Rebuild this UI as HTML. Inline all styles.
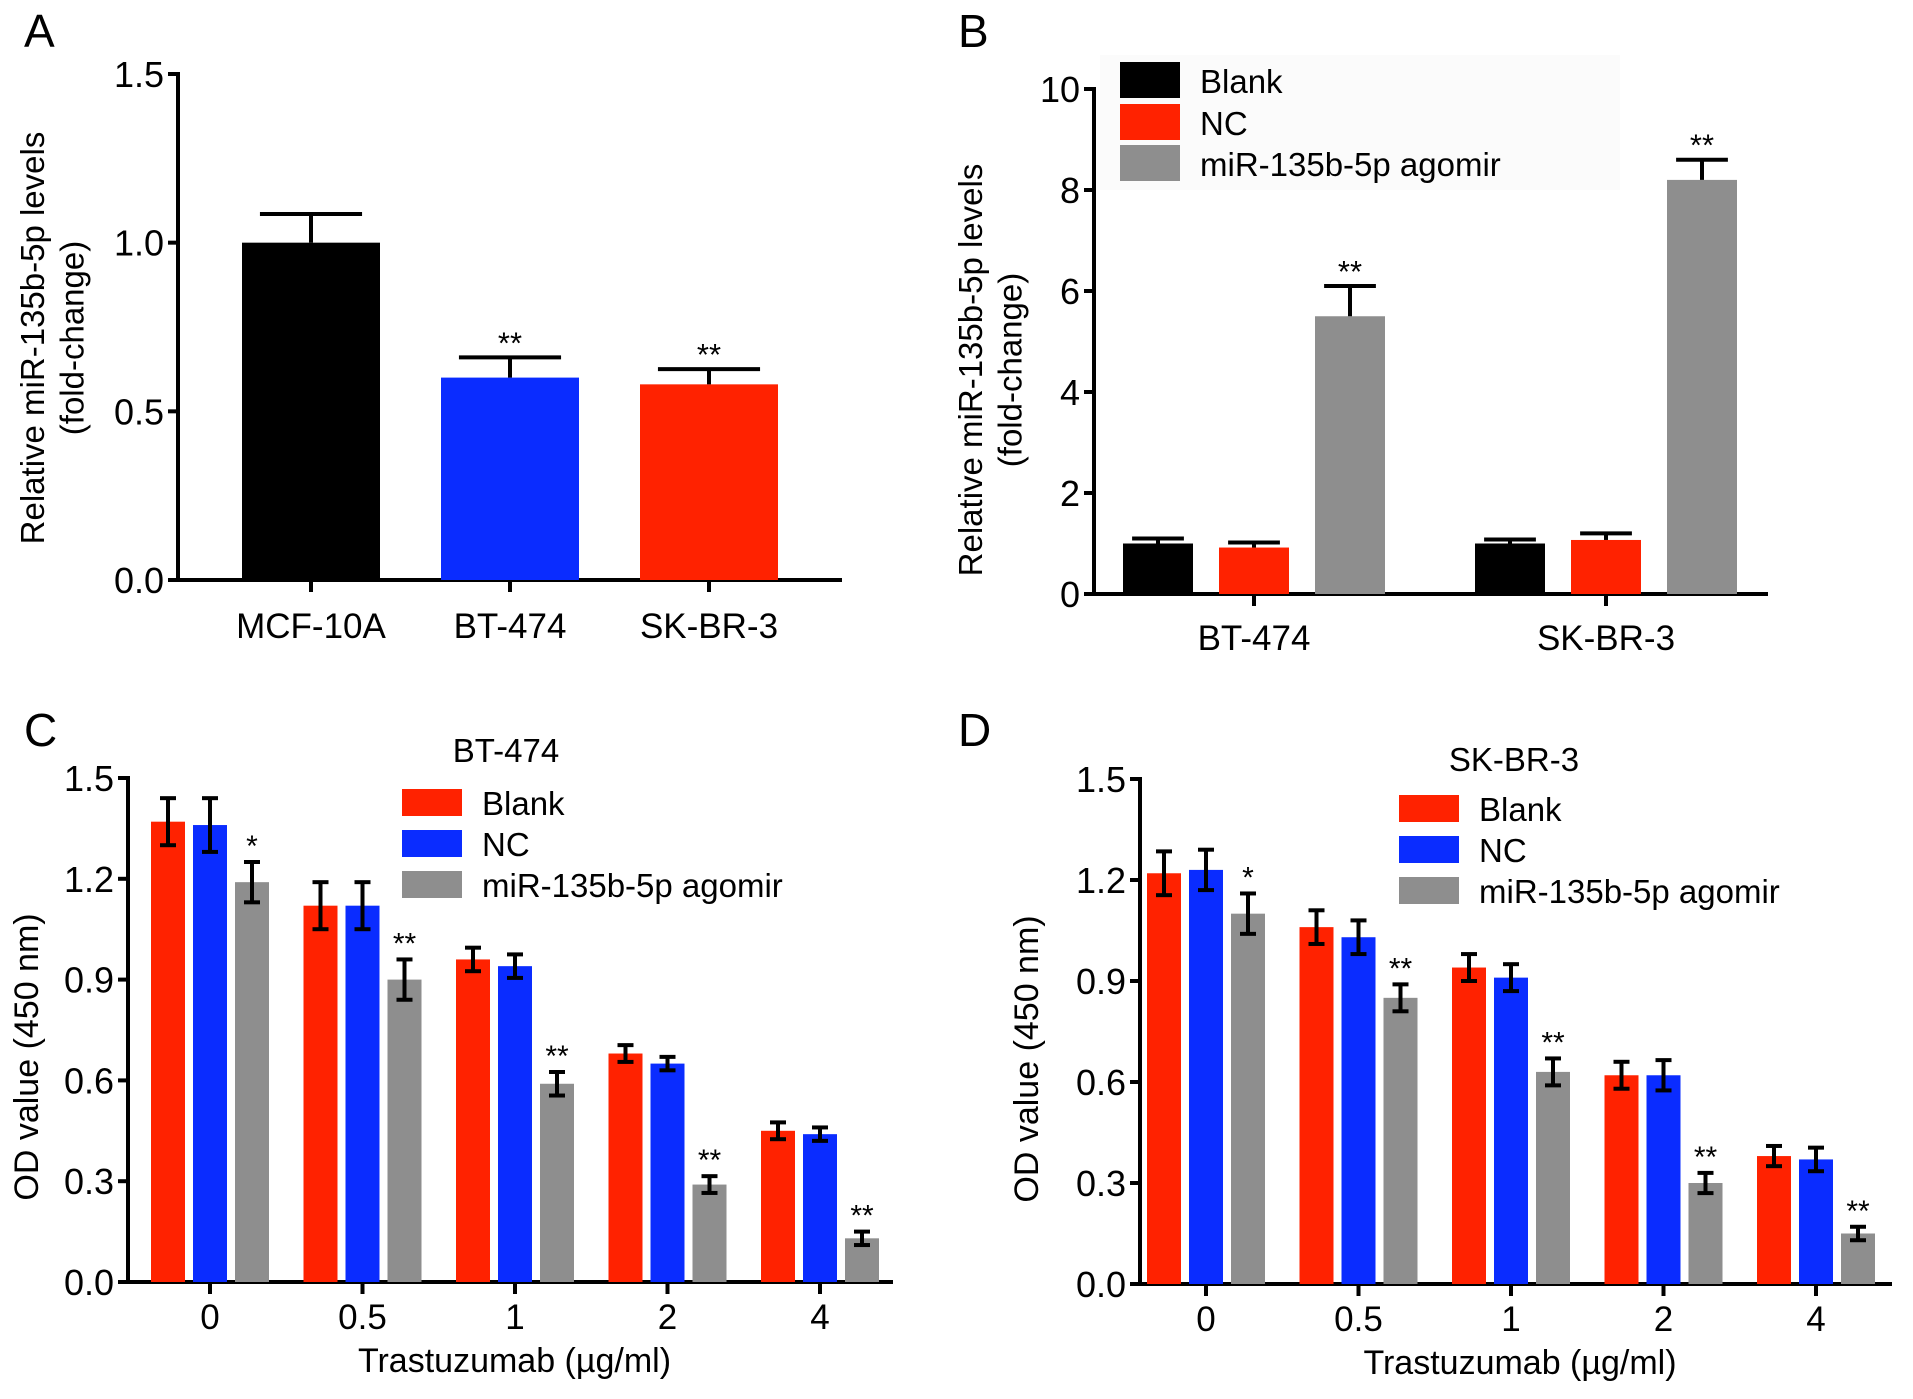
<!DOCTYPE html>
<html><head><meta charset="utf-8"><style>
html,body{margin:0;padding:0;background:#fff;}
svg{display:block;font-family:"Liberation Sans",Arial,sans-serif;}
</style></head><body>
<svg id="fig" width="1913" height="1399" viewBox="0 0 1913 1399">
<text x="24" y="47" font-size="46">A</text>
<text x="958" y="47" font-size="46">B</text>
<text x="24" y="746" font-size="46">C</text>
<text x="958" y="746" font-size="46">D</text>
</svg>
<script>
// Panel A data
const aCats = ["MCF-10A","BT-474","SK-BR-3"];
const aVals = [1.0,0.6,0.58];
const aErr = [0.085,0.06,0.045];
const aStars = ["","**","**"];
const aTicks = ["0.0","0.5","1.0","1.5"];
// Panel B data
const bCats = ["BT-474","SK-BR-3"];
const bSeries = ["Blank","NC","miR-135b-5p agomir"];
const bBlank = [1.0,1.0];
const bNC = [0.92,1.07];
const bAgo = [5.5,8.2];
const bBlankErr = [0.1,0.08];
const bNCErr = [0.1,0.13];
const bAgoErr = [0.6,0.4];
const bTicks = ["0","2","4","6","8","10"];
// Panel C data
const doseCats = ["0","0.5","1","2","4"];
const cBlank = [1.37,1.12,0.96,0.68,0.45];
const cNC = [1.36,1.12,0.94,0.65,0.44];
const cAgo = [1.19,0.90,0.59,0.29,0.13];
const cBlankErr = [0.07,0.07,0.035,0.025,0.025];
const cNCErr = [0.08,0.07,0.035,0.02,0.02];
const cAgoErr = [0.06,0.06,0.035,0.025,0.02];
const cStars = ["*","**","**","**","**"];
// Panel D data
const dBlank = [1.22,1.06,0.94,0.62,0.38];
const dNC = [1.23,1.03,0.91,0.62,0.37];
const dAgo = [1.10,0.85,0.63,0.30,0.15];
const dBlankErr = [0.065,0.05,0.04,0.04,0.03];
const dNCErr = [0.06,0.05,0.04,0.045,0.035];
const dAgoErr = [0.06,0.04,0.04,0.03,0.02];
const dStars = ["*","**","**","**","**"];
const odTicks = ["0.0","0.3","0.6","0.9","1.2","1.5"];

const NS="http://www.w3.org/2000/svg";
const svg=document.getElementById('fig');
function el(tag,attrs,parent,text){const e=document.createElementNS(NS,tag);for(const k in attrs)e.setAttribute(k,attrs[k]);if(text!==undefined)e.textContent=text;(parent||svg).appendChild(e);return e;}
const RED="#ff2200",BLUE="#0a2cff",GRAY="#8e8e8e",BLACK="#000";

function axes(g,x0,x1,y0,yTop,ticks,tmax,fs){
  const ys=v=>y0-(v/tmax)*(y0-yTop);
  const ya=el('line',{x1:x0,y1:yTop-2,x2:x0,y2:y0+2,stroke:'#000','stroke-width':4},g);
  
  
  const xa=el('line',{x1:x0-10,y1:y0,x2:x1,y2:y0,stroke:'#000','stroke-width':4},g);
  
  
  ticks.forEach(t=>{const y=ys(parseFloat(t));
    el('line',{x1:x0-10,y1:y,x2:x0,y2:y,stroke:'#000','stroke-width':4},g);
    const tl=el('text',{x:x0-14,y:y+13,'font-size':fs,'text-anchor':'end'},g,t);
    
    
  });
  return ys;
}
function bar(g,cx,w,v,err,ys,color,twoSided,name){
  const y0=ys(0),yt=ys(v);
  const r=el('rect',{x:cx-w/2,y:yt,width:w,height:y0-yt,fill:color},g);
  
  
  const ye=ys(v+err),yb=twoSided?ys(v-err):yt;
  el('line',{x1:cx,y1:ye,x2:cx,y2:yb,stroke:'#000','stroke-width':4},g);
  const cw=twoSided?8:w*0.37;
  el('line',{x1:cx-cw,y1:ye,x2:cx+cw,y2:ye,stroke:'#000','stroke-width':4},g);
  if(twoSided)el('line',{x1:cx-cw,y1:yb,x2:cx+cw,y2:yb,stroke:'#000','stroke-width':4},g);
  return ye;
}
function ytitle(g,x,y,lines,fs){
  lines.forEach((l,i)=>{const t=el('text',{x:0,y:0,'font-size':fs,'text-anchor':'middle',transform:`translate(${x+i*(fs*1.2)},${y}) rotate(-90)`},g,l);
    
    });
}

// Panel A
(function(){
  const g=el('g',{});
  const ys=axes(g,178,842,580,74,aTicks,1.5,36);
  const cols=[BLACK,BLUE,RED];const xs=[311,510,709];
  aCats.forEach((c,i)=>{
    const ye=bar(g,xs[i],138,aVals[i],aErr[i],ys,cols[i],false,'bar-'+c.toLowerCase());
    el('line',{x1:xs[i],y1:580,x2:xs[i],y2:592,stroke:'#000','stroke-width':4},g);
    const t=el('text',{x:xs[i],y:638,'font-size':35,'text-anchor':'middle'},g,c);
    
    if(aStars[i]){const s=el('text',{x:xs[i],y:ye-4,'font-size':31,'text-anchor':'middle'},g,aStars[i]);
      }
  });
  ytitle(g,44,338,["Relative miR-135b-5p levels","(fold-change)"],33);
})();

// Panel B
(function(){
  const g=el('g',{});
  el('rect',{x:1100,y:55,width:520,height:135,fill:'#fbfbfb'},g);
  const ys=axes(g,1094,1768,594,89,bTicks,10,36);
  const centers=[1254,1606];const cols=[BLACK,RED,GRAY];
  const vals=[bBlank,bNC,bAgo],errs=[bBlankErr,bNCErr,bAgoErr];
  bCats.forEach((c,i)=>{
    vals.forEach((arr,s)=>{
      const cx=centers[i]+(s-1)*96;
      const ye=bar(g,cx,70,arr[i],errs[s][i],ys,cols[s],false,'bar-'+c.toLowerCase()+'-'+s);
      if(s===2){const st=el('text',{x:cx,y:ye-4,'font-size':31,'text-anchor':'middle'},g,'**');
        }
    });
    el('line',{x1:centers[i],y1:594,x2:centers[i],y2:606,stroke:'#000','stroke-width':4},g);
    const t=el('text',{x:centers[i],y:650,'font-size':35,'text-anchor':'middle'},g,c);
    
  });
  const ly=[62,104,145];
  bSeries.forEach((s,i)=>{
    const r=el('rect',{x:1120,y:ly[i],width:60,height:36,fill:cols[i]},g);
    
    const t=el('text',{x:1200,y:ly[i]+31,'font-size':33},g,s);
    
  });
  ytitle(g,982,370,["Relative miR-135b-5p levels","(fold-change)"],33);
})();

function odPanel(name,x0,x1,y0,yTop,ticks0,blank,nc,ago,be,ne,ae,stars,title,titleX,titleY,legX,legY,cells){
  const g=el('g',{});
  const ys=axes(g,x0,x1,y0,yTop,odTicks,1.5,36);
  const cols=[RED,BLUE,GRAY];const vals=[blank,nc,ago],errs=[be,ne,ae];
  doseCats.forEach((c,i)=>{
    const cx0=ticks0+i*152.5;
    vals.forEach((arr,s)=>{
      const cx=cx0+(s-1)*42;
      const ye=bar(g,cx,34,arr[i],errs[s][i],ys,cols[s],true,'bar-dose-'+c+'-'+s);
      if(s===2){const st=el('text',{x:cx,y:ye-6,'font-size':30,'text-anchor':'middle'},g,stars[i]);
        }
    });
    el('line',{x1:cx0,y1:y0,x2:cx0,y2:y0+12,stroke:'#000','stroke-width':4},g);
    const t=el('text',{x:cx0,y:y0+47,'font-size':35,'text-anchor':'middle'},g,c);
    
  });
  const xt=el('text',{x:(x0+x1)/2+4,y:y0+90,'font-size':34,'text-anchor':'middle'},g,'Trastuzumab (µg/ml)');
  
  const tt=el('text',{x:titleX,y:titleY,'font-size':33,'text-anchor':'middle'},g,title);
  
  ["Blank","NC","miR-135b-5p agomir"].forEach((s,i)=>{
    const r=el('rect',{x:legX,y:legY+i*41,width:60,height:27,fill:cols[i]},g);
    
    const t=el('text',{x:legX+80,y:legY+i*41+26,'font-size':33},g,s);
    
  });
  ytitle(g,cells,y0-225,["OD value (450 nm)"],34);
}
odPanel('panel-c',128,893,1282,778,210,cBlank,cNC,cAgo,cBlankErr,cNCErr,cAgoErr,cStars,'BT-474',506,762,402,789,38);
odPanel('panel-d',1140,1892,1284,779,1206,dBlank,dNC,dAgo,dBlankErr,dNCErr,dAgoErr,dStars,'SK-BR-3',1514,771,1399,795,1038);
</script>
</body></html>
